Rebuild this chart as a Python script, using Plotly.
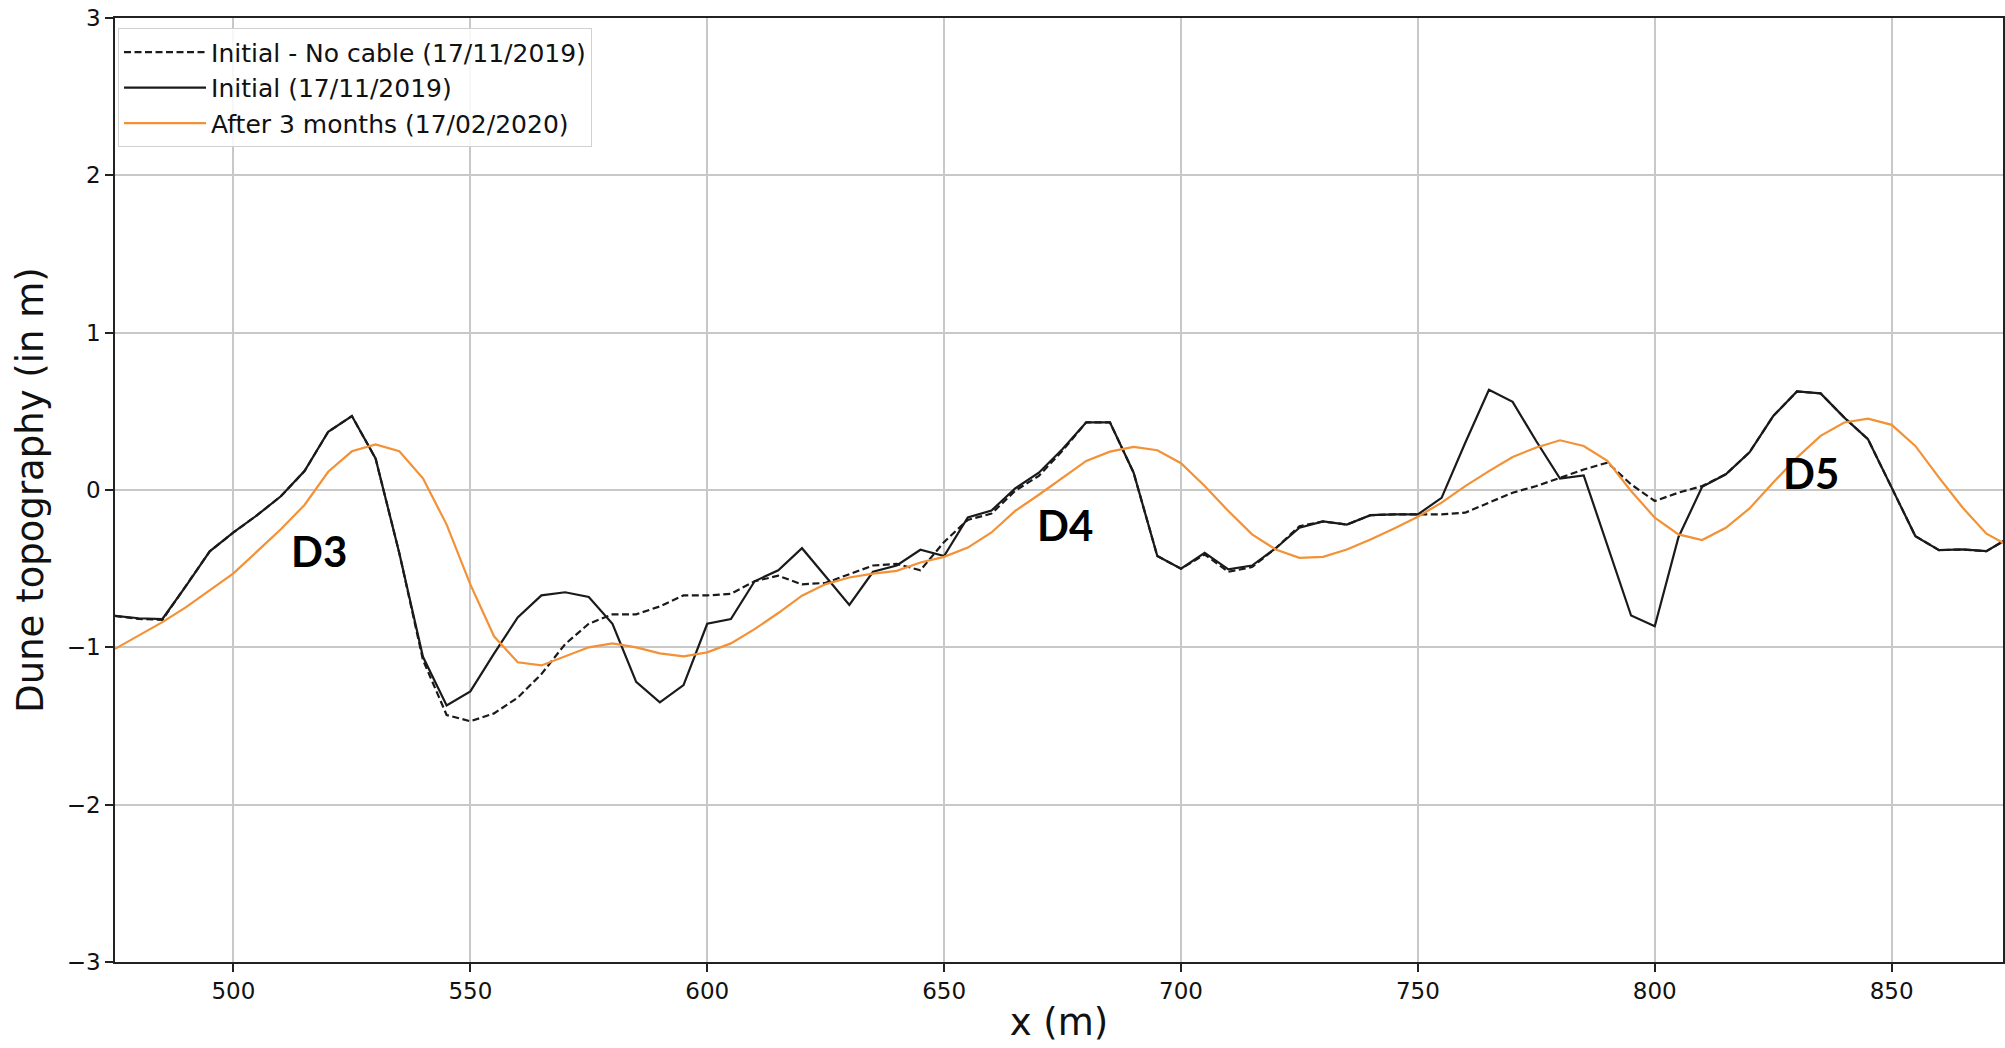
import plotly.graph_objects as go

# ---------------- data ----------------
x_m = list(range(475, 880, 5))

initial_no_cable = [
    -0.80, -0.82, -0.825, -0.61, -0.39, -0.27, -0.16, -0.04, 0.12, 0.37,
    0.47, 0.20, -0.40, -1.08, -1.43, -1.47, -1.42, -1.32, -1.17, -0.98,
    -0.85, -0.79, -0.79, -0.74, -0.67, -0.67, -0.66, -0.58, -0.545, -0.60,
    -0.59, -0.535, -0.48, -0.47, -0.51, -0.33, -0.19, -0.15, -0.005, 0.09,
    0.25, 0.43, 0.43, 0.11, -0.42, -0.50, -0.41, -0.52, -0.49, -0.37,
    -0.23, -0.20, -0.22, -0.16, -0.155, -0.155, -0.155, -0.144, -0.08, -0.017,
    0.025, 0.079, 0.13, 0.174, 0.036, -0.07, -0.017, 0.025, 0.10, 0.24,
    0.47, 0.626, 0.614, 0.46, 0.323, 0.015, -0.293, -0.382, -0.378, -0.389,
    -0.30,
]

initial = [
    -0.80, -0.815, -0.82, -0.61, -0.39, -0.27, -0.16, -0.04, 0.12, 0.37,
    0.47, 0.20, -0.40, -1.06, -1.37, -1.28, -1.04, -0.81, -0.67, -0.65,
    -0.68, -0.85, -1.22, -1.35, -1.24, -0.85, -0.82, -0.58, -0.51, -0.37,
    -0.55, -0.73, -0.52, -0.48, -0.38, -0.42, -0.175, -0.13, 0.01, 0.11,
    0.26, 0.43, 0.43, 0.11, -0.42, -0.50, -0.40, -0.505, -0.48, -0.37,
    -0.24, -0.20, -0.22, -0.16, -0.155, -0.155, -0.05, 0.30, 0.637, 0.56,
    0.31, 0.072, 0.093, -0.357, -0.798, -0.866, -0.30, 0.02, 0.10, 0.24,
    0.47, 0.626, 0.614, 0.46, 0.323, 0.015, -0.293, -0.382, -0.378, -0.389,
    -0.30,
]

after_3_months = [
    -1.01, -0.925, -0.84, -0.745, -0.64, -0.53, -0.39, -0.25, -0.095, 0.116,
    0.246, 0.29, 0.246, 0.074, -0.22, -0.60, -0.93, -1.095, -1.115, -1.06,
    -1.0, -0.975, -1.0, -1.038, -1.057, -1.032, -0.975, -0.884, -0.782, -0.672,
    -0.598, -0.556, -0.531, -0.514, -0.461, -0.425, -0.366, -0.27, -0.133, -0.03,
    0.079, 0.185, 0.244, 0.274, 0.253, 0.17, 0.025, -0.134, -0.282, -0.378,
    -0.431, -0.425, -0.378, -0.314, -0.244, -0.17, -0.08, 0.025, 0.12, 0.21,
    0.27, 0.316, 0.28, 0.185, -0.006, -0.176, -0.282, -0.318, -0.24, -0.117,
    0.047, 0.206, 0.344, 0.429, 0.454, 0.414, 0.28, 0.079, -0.113, -0.278,
    -0.36,
]

series_names = [
    "Initial - No cable (17/11/2019)",
    "Initial (17/11/2019)",
    "After 3 months (17/02/2020)",
]

x_ticks = [500, 550, 600, 650, 700, 750, 800, 850]
y_ticks = [-3, -2, -1, 0, 1, 2, 3]
y_tick_text = ["\u22123", "\u22122", "\u22121", "0", "1", "2", "3"]

dune_labels = ["D3", "D4", "D5"]
dune_label_x = [518, 675.5, 833]
dune_label_y = [-0.39, -0.22, 0.11]

# ---------------- figure ----------------
FONT = "DejaVu Sans"
fig = go.Figure()

fig.add_trace(go.Scatter(
    x=x_m, y=initial_no_cable, mode="lines", name=series_names[0],
    line=dict(color="#1a1a1a", width=2.2, dash="7px,3.5px"), legendgroup="a",
))
fig.add_trace(go.Scatter(
    x=x_m, y=initial, mode="lines", name=series_names[1],
    line=dict(color="#1a1a1a", width=2.2), legendgroup="b",
))
fig.add_trace(go.Scatter(
    x=x_m, y=after_3_months, mode="lines", name=series_names[2],
    line=dict(color="#F39136", width=2.2), legendgroup="c",
))

for t, xx, yy in zip(dune_labels, dune_label_x, dune_label_y):
    fig.add_annotation(
        x=xx, y=yy, xref="x", yref="y", text="<b>%s</b>" % t, showarrow=False,
        font=dict(family="Lato", size=42, color="black"),
    )

axis_common = dict(
    showgrid=True, gridcolor="#c8c8c8", gridwidth=1.5,
    showline=True, linecolor="#222", linewidth=1.5, mirror=True,
    ticks="outside", ticklen=8, tickwidth=1.5, tickcolor="#222",
    tickfont=dict(family=FONT, size=23, color="#111"),
    zeroline=False,
)

fig.update_layout(
    width=2005, height=1048,
    margin=dict(l=115, r=0, t=18, b=86),
    paper_bgcolor="white", plot_bgcolor="white",
    showlegend=True,
    legend=dict(
        x=0.0016, y=0.989, xanchor="left", yanchor="top",
        bgcolor="rgba(255,255,255,0.85)", bordercolor="#d0d0d0", borderwidth=1,
        font=dict(family=FONT, size=25, color="#111"),
        tracegroupgap=5, traceorder="normal", itemwidth=82,
    ),
    xaxis=dict(
        range=[475, 873.5], tickvals=x_ticks,
        title=dict(text="x (m)", font=dict(family=FONT, size=37, color="#111"), standoff=6),
        **axis_common,
    ),
    yaxis=dict(
        range=[-3, 3], tickvals=y_ticks, ticktext=y_tick_text,
        title=dict(text="Dune topography (in m)", font=dict(family=FONT, size=37, color="#111"), standoff=12),
        **axis_common,
    ),
)

fig.write_html("out.html")
